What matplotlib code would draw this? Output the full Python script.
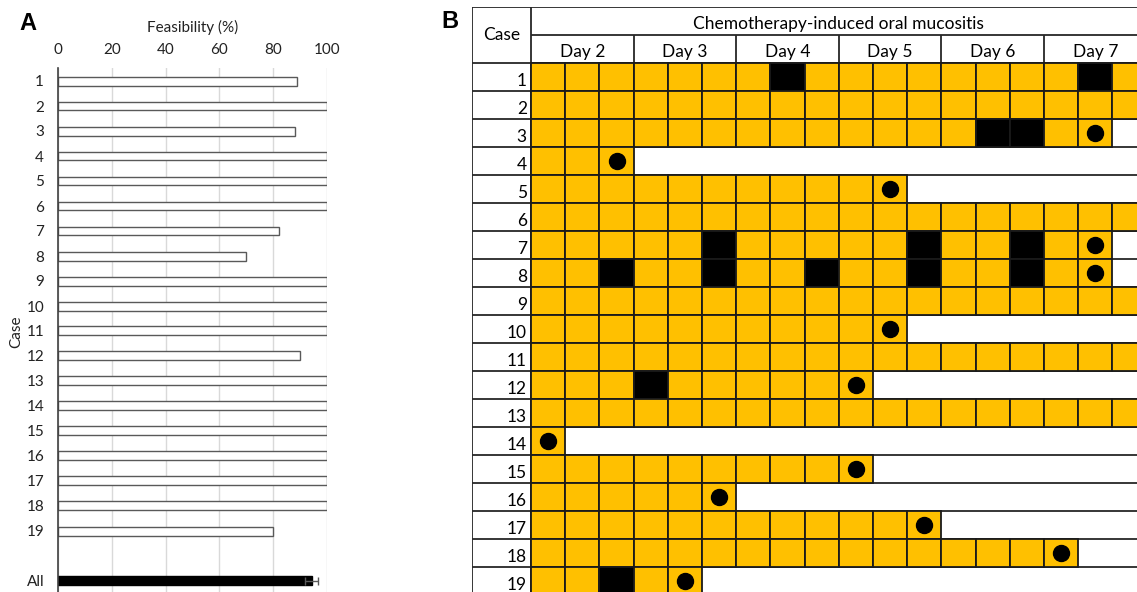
import matplotlib
matplotlib.use("Agg")
import matplotlib.pyplot as plt
from matplotlib.patches import Rectangle

plt.rcParams['font.family'] = ['Lato', 'DejaVu Sans']

# ---------------- Panel A data ----------------
case_labels = [str(i) for i in range(1, 20)]
feasibility = [89, 100, 88, 100, 100, 100, 82, 70, 100, 100,
               100, 90, 100, 100, 100, 100, 100, 100, 80]
all_label = "All"
all_mean = 94.4
all_err = 2.4
x_ticks = [0, 20, 40, 60, 80, 100]

# ---------------- Panel B data ----------------
day_labels = ["Day 2", "Day 3", "Day 4", "Day 5", "Day 6", "Day 7"]
slots_per_day = 3
table_title = "Chemotherapy-induced oral mucositis"
# number of filled (assessed) slots per case
filled_slots = [18, 18, 17, 3, 11, 18, 17, 17, 18, 11, 18, 10, 18, 1, 10, 6, 12, 16, 5]
# black slots (1-based) per case
black_slots = {1: [8, 17], 3: [14, 15], 7: [6, 12, 15], 8: [3, 6, 9, 12, 15],
               12: [4], 19: [3]}
# slot with a dot marker (1-based), None if none
dot_slot = [None, None, 17, 3, 11, None, 17, 17, None, 11, None, 10, None, 1, 10, 6, 12, 16, 5]

YELLOW = "#FFC000"

W, H = 1137, 592
fig = plt.figure(figsize=(W / 100, H / 100), dpi=100)

# ================= Panel A =================
axA = fig.add_axes([58 / W, 0, (327 - 58) / W, (592 - 68) / H])
ypos = list(range(1, len(feasibility) + 1))
axA.barh(ypos, feasibility, height=0.36, color="white", edgecolor="#595959",
         linewidth=1.0, zorder=3)
all_pos = len(feasibility) + 2
axA.barh([all_pos], [all_mean], height=0.36, color="black", edgecolor="black",
         xerr=[all_err], error_kw=dict(ecolor="#595959", capsize=3, elinewidth=1),
         zorder=3)
axA.set_xlim(0, 100)
axA.set_ylim(all_pos + 0.44, 0.48)
axA.set_yticks(ypos + [all_pos])
axA.set_yticklabels(case_labels + [all_label], fontsize=11, color="#222222")
axA.set_xticks(x_ticks)
axA.set_xticklabels([str(v) for v in x_ticks], fontsize=11, color="#222222")
axA.xaxis.tick_top()
axA.xaxis.set_label_position("top")
axA.tick_params(axis="both", length=0)
axA.tick_params(axis="y", pad=10)
axA.tick_params(axis="x", pad=8)
axA.set_xlabel("Feasibility (%)", fontsize=11, labelpad=8, color="#222222")
axA.set_ylabel("Case", fontsize=11, color="#222222")
axA.yaxis.set_label_coords((23 - 58) / 269, (592 - 332) / 524)
axA.grid(axis="x", color="#d9d9d9", linewidth=1, zorder=0)
for s in ["top", "right", "bottom"]:
    axA.spines[s].set_visible(False)
axA.spines["left"].set_color("#404040")
axA.spines["left"].set_linewidth(1.2)
axA.spines["left"].set_zorder(4)

fig.text(28 / W, 1 - 24 / H, "A", fontsize=17, fontweight="bold",
         family="Liberation Sans", ha="center", va="center")

# ================= Panel B =================
ncols = slots_per_day * len(day_labels)
nrows = len(filled_slots)
case_w = 58.7 / 34.2
left_px, top_px = 472.3, 7.3
cell_px_w, cell_px_h = 34.2, 28.0
tw_px = 58.7 + ncols * cell_px_w
th_px = (nrows + 2) * cell_px_h
axB = fig.add_axes([left_px / W, 1 - (top_px + th_px) / H, tw_px / W, th_px / H])
axB.set_xlim(-case_w, ncols)
axB.set_ylim(nrows + 2, 0)
axB.axis("off")

line_c = "#262626"
lw = 1.3
# row lines spanning full table
for r in range(2, nrows + 3):
    axB.hlines(r, -case_w, ncols, color=line_c, linewidth=lw, zorder=1)
axB.hlines(0, -case_w, ncols, color=line_c, linewidth=lw, zorder=1)
axB.hlines(1, 0, ncols, color=line_c, linewidth=lw, zorder=1)
axB.vlines([-case_w, 0], 0, nrows + 2, color=line_c, linewidth=lw, zorder=1)
axB.vlines([d * slots_per_day for d in range(1, len(day_labels))], 1, 2,
           color=line_c, linewidth=lw, zorder=1)
axB.vlines(ncols, 0, 2, color=line_c, linewidth=lw, zorder=1)

# header text
axB.text(-case_w / 2, 1.0, "Case", ha="center", va="center", fontsize=12.5)
axB.text(ncols / 2, 0.6, table_title, ha="center", va="center", fontsize=12.5)
for d, lab in enumerate(day_labels):
    axB.text(d * slots_per_day + slots_per_day / 2, 1.6, lab,
             ha="center", va="center", fontsize=12.5)

for i in range(nrows):
    case = i + 1
    y0 = i + 2
    axB.text(-0.12, y0 + 0.62, str(case), ha="right", va="center", fontsize=12.5)
    blacks = black_slots.get(case, [])
    for c in range(1, filled_slots[i] + 1):
        col = "black" if c in blacks else YELLOW
        axB.add_patch(Rectangle((c - 1, y0), 1, 1, facecolor=col,
                                edgecolor="#1a1a1a", linewidth=lw, zorder=2))
    if dot_slot[i] is not None:
        axB.plot(dot_slot[i] - 0.5, y0 + 0.5, "o", color="black",
                 markersize=11.5, zorder=3)

fig.text(450 / W, 1 - 21.5 / H, "B", fontsize=17, fontweight="bold",
         family="Liberation Sans", ha="center", va="center")

fig.savefig("out.png", dpi=100)
